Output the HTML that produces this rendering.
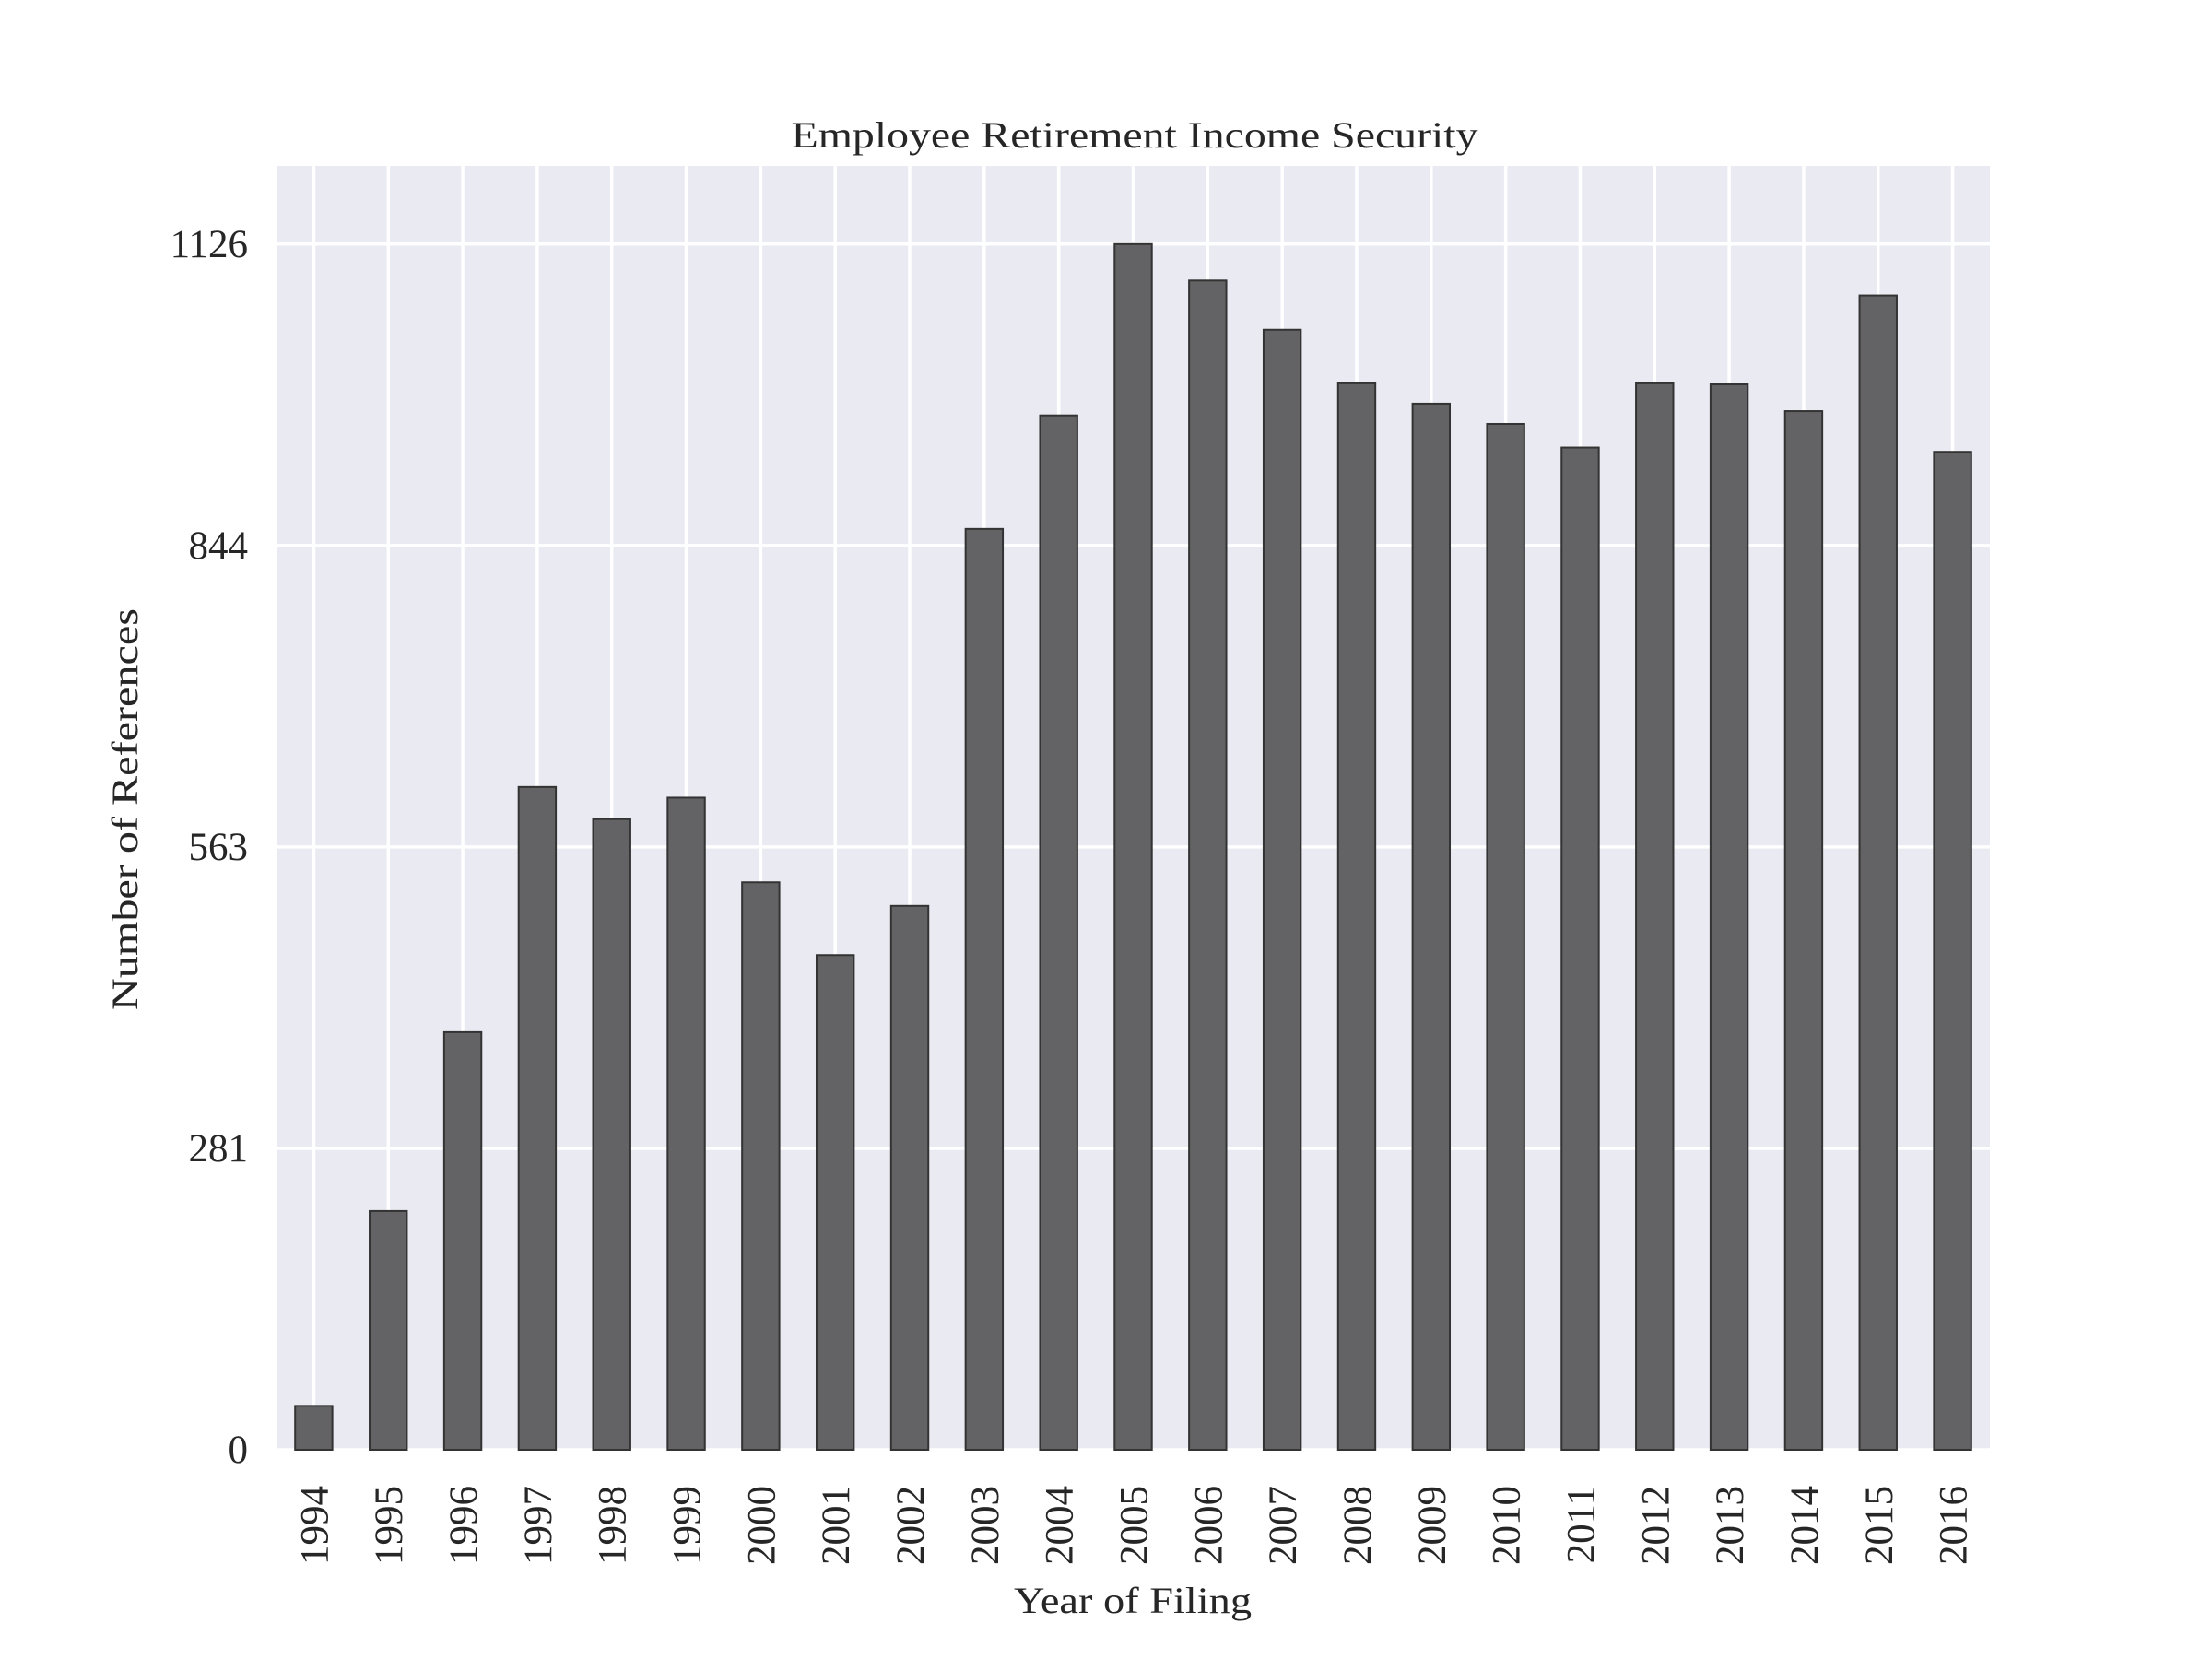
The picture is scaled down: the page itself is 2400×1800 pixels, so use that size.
<!DOCTYPE html>
<html><head><meta charset="utf-8"><style>html,body{margin:0;padding:0;background:#fff}svg{display:block}</style></head>
<body>
<svg id="chart" width="2400" height="1800" xmlns="http://www.w3.org/2000/svg"></svg>
<script>
const categories = ["1994","1995","1996","1997","1998","1999","2000","2001","2002","2003","2004","2005","2006","2007","2008","2009","2010","2011","2012","2013","2014","2015","2016"];
const seriesValues = [41,223,390,619,589,609,530,462,508,860,966,1126,1092,1046,996,977,958,936,996,995,970,1078,932];
const tickValues = [0,281.5,563,844.5,1126];
const tickLabels = ["0","281","563","844","1126"];

const svg = document.getElementById('chart');
const NS = 'http://www.w3.org/2000/svg';
const L = 300, R = 2159, T = 180, B = 1573;
const yMax = 1199;
const band = (R - L) / categories.length;
function x(i){ return L + band * (i + 0.5); }
function y(v){ return B - (v / yMax) * (B - T); }
function mk(tag, attrs){ const e = document.createElementNS(NS, tag); for (const k in attrs) e.setAttribute(k, attrs[k]); svg.appendChild(e); return e; }

const bg = mk('rect', {x:L, y:T, width:R-L, height:B-T, fill:'#eaeaf2'});



tickValues.forEach((v, i) => {
  const g = mk('line', {x1:L, x2:R, y1:y(v), y2:y(v), stroke:'#fff', 'stroke-width':3.5});
  
  
  const t = mk('text', {x:269, y:y(v)+14, 'text-anchor':'end', 'font-size':43, fill:'#262626', 'font-family':'"Liberation Serif", serif'});
  t.textContent = tickLabels[i];
  
  
});
categories.forEach((c, i) => {
  const g = mk('line', {x1:x(i), x2:x(i), y1:T, y2:B, stroke:'#fff', 'stroke-width':3.5});
  
  
});
categories.forEach((c, i) => {
  const w = band * 0.5;
  const b = mk('rect', {x:x(i)-w/2, y:y(seriesValues[i]), width:w, height:B-y(seriesValues[i]), fill:'#636365', stroke:'#333', 'stroke-width':2});
  
  
  const t = mk('text', {x:0, y:0, 'text-anchor':'end', 'font-size':43, fill:'#262626', 'font-family':'"Liberation Serif", serif', transform:'translate(' + (x(i)+15) + ',1612) rotate(-90)'});
  t.textContent = c;
  
  
});
</script>
<div style="position:absolute;left:0;top:0;width:2400px;height:1800px;pointer-events:none">
<svg width="2400" height="1800" xmlns="http://www.w3.org/2000/svg" style="position:absolute;left:0;top:0">
<text x="1231" y="160" text-anchor="middle" font-size="40" fill="#262626" font-family="'Liberation Serif', serif" textLength="745" lengthAdjust="spacingAndGlyphs">Employee Retirement Income Security</text>
<text x="0" y="0" text-anchor="middle" font-size="40" fill="#262626" font-family="'Liberation Serif', serif" textLength="436" lengthAdjust="spacingAndGlyphs" transform="translate(149,878) rotate(-90)">Number of References</text>
<text x="1229" y="1750" text-anchor="middle" font-size="40" fill="#262626" font-family="'Liberation Serif', serif" textLength="258" lengthAdjust="spacingAndGlyphs">Year of Filing</text>
</svg></div>
</body></html>
